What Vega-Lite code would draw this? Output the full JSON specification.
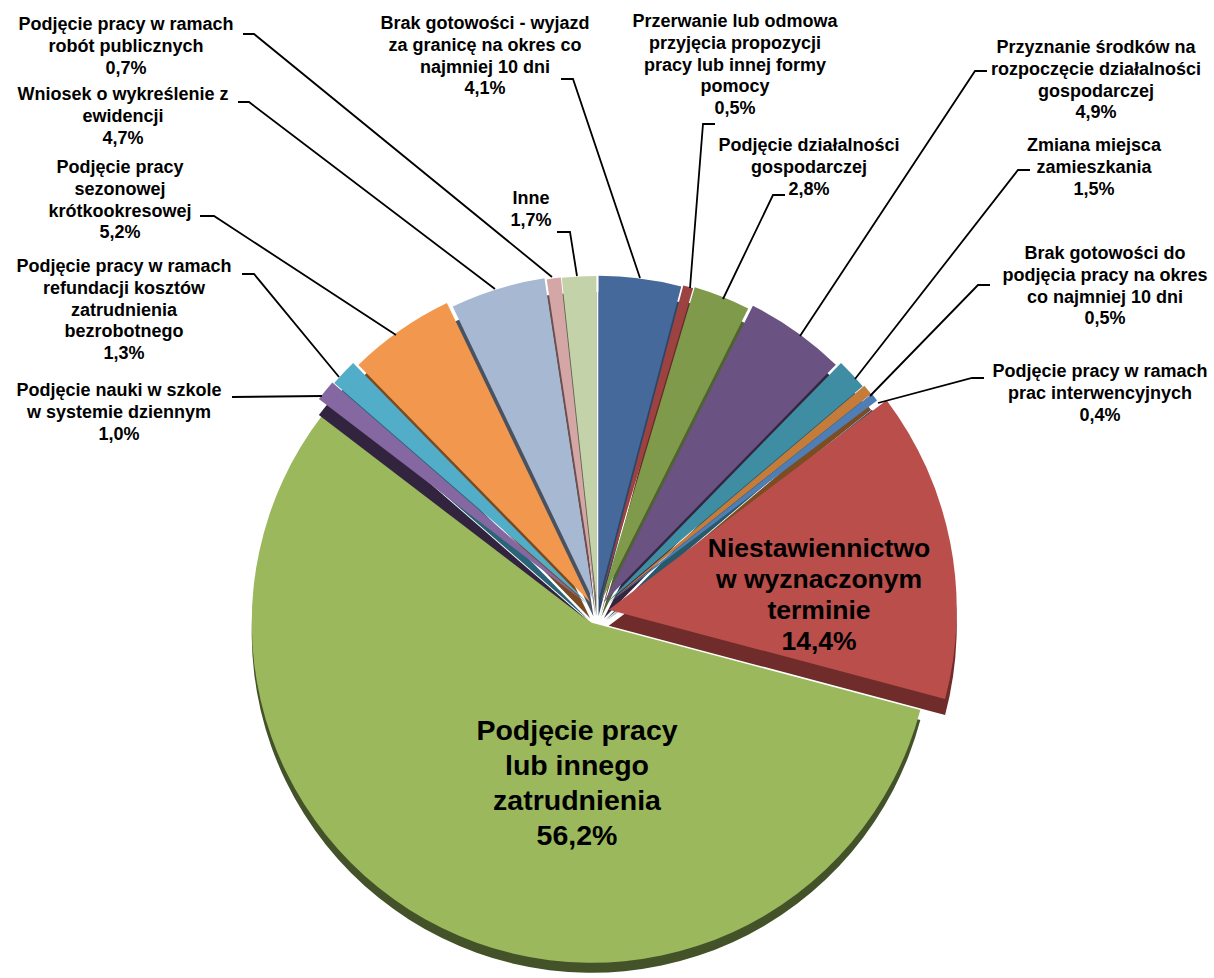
{"$schema":"https://vega.github.io/schema/vega-lite/v6.json","width":1214,"height":978,"padding":0,"autosize":{"type":"none"},"background":"white","config":{"view":{"stroke":null}},
"datasets":{
"slices":[
{"order":1,"name":"Brak gotowości - wyjazd","share":4.1},
{"order":2,"name":"Przerwanie","share":0.5},
{"order":3,"name":"Podjęcie działalności","share":2.8},
{"order":4,"name":"Przyznanie środków","share":4.9},
{"order":5,"name":"Zmiana miejsca","share":1.5},
{"order":6,"name":"Brak gotowości do podjęcia","share":0.5},
{"order":7,"name":"Prace interwencyjne","share":0.4},
{"order":8,"name":"Niestawiennictwo","share":14.4},
{"order":9,"name":"Podjęcie pracy","share":56.2},
{"order":10,"name":"Nauka","share":1.0},
{"order":11,"name":"Refundacja","share":1.3},
{"order":12,"name":"Sezonowa","share":5.2},
{"order":13,"name":"Wniosek","share":4.7},
{"order":14,"name":"Roboty publiczne","share":0.7},
{"order":15,"name":"Inne","share":1.7}],
"labels":[
{"size":"s","a":-117.75,"b":146.75,"label":"Podjęcie pracy w ramach\nrobót publicznych\n0,7%"},
{"size":"s","a":-118.5,"b":129.25,"label":"Wniosek o wykreślenie z\newidencji\n4,7%"},
{"size":"s","a":-119.25,"b":111,"label":"Podjęcie pracy\nsezonowej\nkrótkookresowej\n5,2%"},
{"size":"s","a":-118.25,"b":86.25,"label":"Podjęcie pracy w ramach\nrefundacji kosztów\nzatrudnienia\nbezrobotnego\n1,3%"},
{"size":"s","a":-119.5,"b":55.25,"label":"Podjęcie nauki w szkole\nw systemie dziennym\n1,0%"},
{"size":"s","a":-16.5,"b":103.25,"label":"Inne\n1,7%"},
{"size":"s","a":-28,"b":147,"label":"Brak gotowości - wyjazd\nza granicę na okres co\nnajmniej 10 dni\n4,1%"},
{"size":"s","a":34.5,"b":147.5,"label":"Przerwanie lub odmowa\nprzyjęcia propozycji\npracy lub innej formy\npomocy\n0,5%"},
{"size":"s","a":53,"b":116.5,"label":"Podjęcie działalności\ngospodarczej\n2,8%"},
{"size":"s","a":124.75,"b":141,"label":"Przyznanie środków na\nrozpoczęcie działalności\ngospodarczej\n4,9%"},
{"size":"s","a":124.25,"b":116.5,"label":"Zmiana miejsca\nzamieszkania\n1,5%"},
{"size":"s","a":127,"b":89.5,"label":"Brak gotowości do\npodjęcia pracy na okres\nco najmniej 10 dni\n0,5%"},
{"size":"s","a":125.75,"b":60,"label":"Podjęcie pracy w ramach\nprac interwencyjnych\n0,4%"},
{"size":"m","a":55.5,"b":15.75,"label":"Niestawiennictwo\nw wyznaczonym\nterminie\n14,4%"},
{"size":"l","a":-5,"b":-29.75,"label":"Podjęcie pracy\nlub innego\nzatrudnienia\n56,2%"}],
"leaders":[
{"id":"a","k":1,"a":-9,"b":133.25},{"id":"a","k":2,"a":-6,"b":133.25},{"id":"a","k":3,"a":10.75,"b":83.5},
{"id":"b","k":1,"a":29.5,"b":122},{"id":"b","k":2,"a":26.5,"b":122},{"id":"b","k":3,"a":23.25,"b":81},
{"id":"c","k":1,"a":47,"b":104.25},{"id":"c","k":2,"a":44,"b":104.25},{"id":"c","k":3,"a":31.5,"b":78.25},
{"id":"d","k":1,"a":97.5,"b":135.25},{"id":"d","k":2,"a":94.5,"b":135.25},{"id":"d","k":3,"a":50.75,"b":69},
{"id":"e","k":1,"a":108.25,"b":110.5},{"id":"e","k":2,"a":105.25,"b":110.5},{"id":"e","k":3,"a":64.5,"b":58.25},
{"id":"f","k":1,"a":98.25,"b":81.75},{"id":"f","k":2,"a":95.25,"b":81.75},{"id":"f","k":3,"a":68.25,"b":54},
{"id":"g","k":1,"a":96.75,"b":58.5},{"id":"g","k":2,"a":93.75,"b":58.5},{"id":"g","k":3,"a":70.25,"b":52.25},
{"id":"h","k":1,"a":-91.25,"b":53.75},{"id":"h","k":2,"a":-68.75,"b":54},
{"id":"i","k":1,"a":-88.75,"b":84.5},{"id":"i","k":2,"a":-85.75,"b":84.5},{"id":"i","k":3,"a":-64.5,"b":58.75},
{"id":"j","k":1,"a":-99.25,"b":99},{"id":"j","k":2,"a":-95.75,"b":99},{"id":"j","k":3,"a":-50.25,"b":69.25},
{"id":"k","k":1,"a":-89.75,"b":127.5},{"id":"k","k":2,"a":-87,"b":127.5},{"id":"k","k":3,"a":-25.5,"b":80.75},
{"id":"l","k":1,"a":-88.5,"b":144.5},{"id":"l","k":2,"a":-85.75,"b":144.5},{"id":"l","k":3,"a":-11.25,"b":83.75},
{"id":"m","k":1,"a":-10,"b":95},{"id":"m","k":2,"a":-6.75,"b":95},{"id":"m","k":3,"a":-5,"b":84}]
},
"encoding":{
"x":{"type":"quantitative","axis":null,"scale":{"domain":[-149.25,154.25],"nice":false,"zero":false}},
"y":{"type":"quantitative","axis":null,"scale":{"domain":[-91.5,153],"nice":false,"zero":false}}
},
"layer":[
{"data":{"name":"slices"},
"transform":[
{"stack":"share","groupby":[],"sort":[{"field":"order"}],"as":["s0","s1"]},
{"calculate":"(datum.s0+datum.s1)/2/99.9*2*PI","as":"mid"},
{"calculate":"3*sin(datum.mid)","as":"ex"},
{"calculate":"3*cos(datum.mid)","as":"ey"},
{"calculate":"datum.order==9 ? 340 : 349*324/sqrt(pow(324*sin(datum.mid),2)+pow(349*cos(datum.mid),2))","as":"r"}
],
"encoding":{
"x":{"field":"ex","type":"quantitative","axis":null,"scale":{"domain":[-149.25,154.25],"nice":false,"zero":false}},
"y":{"field":"ey","type":"quantitative","axis":null,"scale":{"domain":[-91.5,153],"nice":false,"zero":false}},
"theta":{"field":"s0","type":"quantitative","stack":null,"scale":{"domain":[0,99.9],"range":[0,6.283185]}},
"theta2":{"field":"s1"},
"radius":{"field":"r","type":"quantitative","scale":null}
},
"layer":[
{"transform":[{"filter":"datum.order==9"}],"mark":{"type":"arc","yOffset":10},"encoding":{"color":{"field":"name","type":"nominal","legend":null,"scale":{"domain":["Brak gotowości - wyjazd","Przerwanie","Podjęcie działalności","Przyznanie środków","Zmiana miejsca","Brak gotowości do podjęcia","Prace interwencyjne","Niestawiennictwo","Podjęcie pracy","Nauka","Refundacja","Sezonowa","Wniosek","Roboty publiczne","Inne"],"range":["#2C4568","#632B2A","#4F6230","#33253F","#28596A","#7C4D23","#2F4B70","#6F2C2A","#44522A","#32243F","#2A6577","#7A4A20","#4A5260","#6B5050","#5E6652"]}}}},
{"transform":[{"filter":"datum.order==9"}],"mark":{"type":"arc"},"encoding":{"fill":{"field":"name","type":"nominal","legend":null,"scale":{"domain":["Brak gotowości - wyjazd","Przerwanie","Podjęcie działalności","Przyznanie środków","Zmiana miejsca","Brak gotowości do podjęcia","Prace interwencyjne","Niestawiennictwo","Podjęcie pracy","Nauka","Refundacja","Sezonowa","Wniosek","Roboty publiczne","Inne"],"range":["#44699A","#9C4341","#7E9A4A","#6A5282","#3E8DA3","#C57B3A","#4F7DB5","#B94E4B","#9BB85C","#8567A2","#52AEC8","#F2984E","#A7B8D3","#D4A7A6","#C3D2A8"]}}}},
{"transform":[{"filter":"datum.order!=9"}],"mark":{"type":"arc","yOffset":16},"encoding":{"color":{"field":"name","type":"nominal","legend":null}}},
{"transform":[{"filter":"datum.order!=9"}],"mark":{"type":"arc"},"encoding":{"fill":{"field":"name","type":"nominal","legend":null}}}
]},
{"data":{"name":"leaders"},"mark":{"type":"line","stroke":"black","strokeWidth":1.8,"interpolate":"linear"},"encoding":{"x":{"field":"a","type":"quantitative"},"y":{"field":"b","type":"quantitative"},"detail":{"field":"id"},"order":{"field":"k","type":"quantitative"}}},
{"data":{"name":"labels"},"transform":[{"filter":"datum.size=='s'"}],"mark":{"type":"text","font":"Liberation Sans","fontWeight":"bold","fontSize":18,"lineHeight":21.8,"lineBreak":"\n","align":"center","baseline":"middle","color":"black"},"encoding":{"x":{"field":"a","type":"quantitative"},"y":{"field":"b","type":"quantitative"},"text":{"field":"label"}}},
{"data":{"name":"labels"},"transform":[{"filter":"datum.size=='m'"}],"mark":{"type":"text","font":"Liberation Sans","fontWeight":"bold","fontSize":26.5,"lineHeight":31,"lineBreak":"\n","align":"center","baseline":"middle","color":"black"},"encoding":{"x":{"field":"a","type":"quantitative"},"y":{"field":"b","type":"quantitative"},"text":{"field":"label"}}},
{"data":{"name":"labels"},"transform":[{"filter":"datum.size=='l'"}],"mark":{"type":"text","font":"Liberation Sans","fontWeight":"bold","fontSize":28.5,"lineHeight":35,"lineBreak":"\n","align":"center","baseline":"middle","color":"black"},"encoding":{"x":{"field":"a","type":"quantitative"},"y":{"field":"b","type":"quantitative"},"text":{"field":"label"}}}
]}
